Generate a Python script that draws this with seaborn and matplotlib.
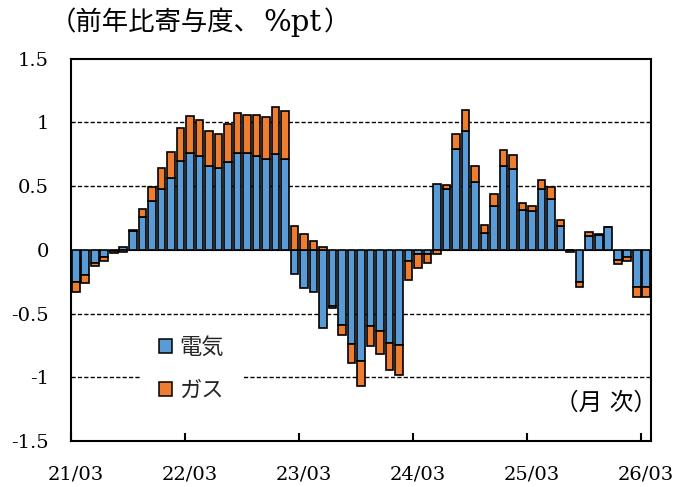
import numpy as np
import pandas as pd
import matplotlib
matplotlib.use("Agg")
import matplotlib.pyplot as plt
import seaborn as sns
from matplotlib.patches import Patch

# ---- data ----
months = pd.period_range("2021-03", "2026-03", freq="M").strftime("%y/%m").tolist()
elec = [-0.25, -0.20, -0.10, -0.06, -0.01, 0.025, 0.145, 0.26, 0.38, 0.475,
        0.56, 0.70, 0.76, 0.74, 0.66, 0.64, 0.69, 0.76, 0.76, 0.74,
        0.71, 0.75, 0.71, -0.19, -0.30, -0.33, -0.61, -0.44, -0.59, -0.74,
        -0.87, -0.60, -0.64, -0.73, -0.75, -0.09, -0.03, -0.03, 0.515, 0.475,
        0.79, 0.93, 0.535, 0.135, 0.345, 0.66, 0.635, 0.31, 0.305, 0.475,
        0.40, 0.19, -0.02, -0.25, 0.11, 0.12, 0.18, -0.08, -0.06, -0.29,
        -0.29]
gas = [-0.08, -0.06, -0.03, -0.025, -0.015, -0.02, 0.01, 0.06, 0.11, 0.165,
       0.21, 0.255, 0.29, 0.28, 0.27, 0.27, 0.30, 0.31, 0.30, 0.32,
       0.33, 0.37, 0.38, 0.19, 0.125, 0.073, 0.025, -0.02, -0.08, -0.15,
       -0.20, -0.155, -0.18, -0.21, -0.235, -0.145, -0.115, -0.07, -0.035, 0.035,
       0.12, 0.17, 0.125, 0.06, 0.09, 0.125, 0.11, 0.057, 0.04, 0.075,
       0.09, 0.045, 0.0, -0.04, 0.03, 0.005, 0.0, -0.03, -0.03, -0.08,
       -0.08]
series_names = ["電気", "ガス"]
tick_labels = ["21/03", "22/03", "23/03", "24/03", "25/03", "26/03"]
y_ticks = [-1.5, -1, -0.5, 0, 0.5, 1, 1.5]
y_tick_labels = ["-1.5", "-1", "-0.5", "0", "0.5", "1", "1.5"]
grid_levels = [-1, -0.5, 0.5, 1]
title_parts = ["（前年比寄与度、", "%pt", "）"]
freq_label = "（月 次）"

BLUE = "#5B9BD5"
ORANGE = "#ED7D31"

sns.set_theme(style="white")
plt.rcParams['font.family'] = ['DejaVu Serif', 'Noto Sans CJK JP']

fig = plt.figure(figsize=(6.78, 4.87), dpi=100)
W, H = 678, 487
ax = fig.add_axes([71 / W, 1 - 441 / H, 580 / W, (441 - 58.7) / H])

df = pd.DataFrame({"month": months, "elec": elec, "gas": gas})
e = np.array(elec)
g = np.array(gas)
gas_bottom = np.where(g >= 0, np.maximum(e, 0), np.minimum(e, 0))

bar_kw = dict(saturation=1, width=0.8, edgecolor="black", linewidth=1.2,
              errorbar=None, zorder=3, ax=ax)
sns.barplot(data=df, x="month", y="elec", color=BLUE, **bar_kw)
sns.barplot(data=df, x="month", y="gas", color=ORANGE, bottom=gas_bottom, **bar_kw)

ax.set_xlim(-0.5, len(months) - 0.5)
ax.set_ylim(-1.5, 1.5)
ax.set_xlabel("")
ax.set_ylabel("")

# gridlines
for v in grid_levels:
    ax.axhline(v, color="black", lw=1.0, ls=(0, (3, 1.6)), zorder=1)
ax.axhline(0, color="black", lw=0.8, zorder=2)

# x ticks
major_pos = [months.index(t) for t in tick_labels]
ax.set_xticks(major_pos)
ax.set_xticklabels(tick_labels)
ax.set_xticks([p - 0.5 for p in major_pos], minor=True)
ax.tick_params(axis="x", which="major", length=0, pad=17.5, labelsize=14, colors="black")
ax.tick_params(axis="x", which="minor", direction="in", length=6, width=1.5,
               bottom=True, color="black")
ax.set_yticks(y_ticks)
ax.set_yticklabels(y_tick_labels)
ax.tick_params(axis="y", length=0, pad=16, labelsize=14, colors="black")

for s in ax.spines.values():
    s.set_visible(True)
    s.set_color("black")
    s.set_linewidth(1.5)
    s.set_zorder(6)

# title in pieces (Latin part is set larger, as in the original)
t1 = fig.text(50 / W, 1 - 23 / H, title_parts[0], fontsize=19,
              ha="left", va="center", color="black")
t2 = ax.annotate(title_parts[1], xy=(1, 0.5), xycoords=t1, xytext=(2, 0),
                 textcoords="offset points", fontsize=21, ha="left", va="center",
                 color="black", annotation_clip=False)
t3 = ax.annotate(title_parts[2], xy=(1, 0.5), xycoords=t2, xytext=(1, 0),
                 textcoords="offset points", fontsize=19,
                 ha="left", va="center", color="black", annotation_clip=False)

fig.text(657 / W, 1 - 403 / H, freq_label, fontsize=17,
         ha="right", va="center", color="black")

handles = [Patch(facecolor=BLUE, edgecolor="black", linewidth=1.1, label=series_names[0]),
           Patch(facecolor=ORANGE, edgecolor="black", linewidth=1.1, label=series_names[1])]
leg = ax.legend(handles=handles, loc="upper left",
                bbox_to_anchor=(140 / W, 1 - 318 / H), bbox_transform=fig.transFigure,
                fontsize=16, handlelength=0.58, handleheight=0.58, handletextpad=0.34,
                labelspacing=0.95, borderpad=0.85, borderaxespad=0, frameon=True,
                fancybox=False, facecolor="white", edgecolor="none", framealpha=1)

fig.savefig("out.png", dpi=100)
